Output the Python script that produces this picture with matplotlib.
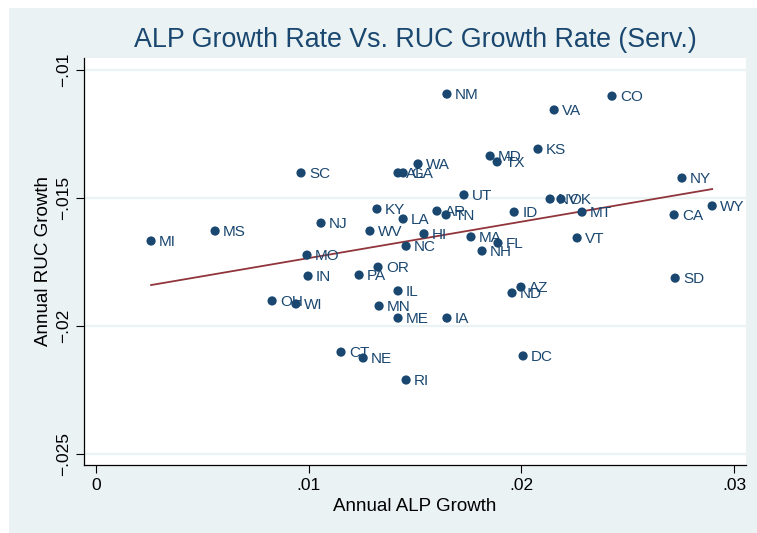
import numpy as np
import matplotlib
matplotlib.use('Agg')
import matplotlib.pyplot as plt
from matplotlib.patches import Rectangle

plt.rcParams['font.family'] = ['Liberation Sans', 'DejaVu Sans']

# Dados (crescimento anual)
states = ['MI', 'MS', 'SC', 'NJ', 'MO', 'IN', 'OH', 'WI', 'KY', 'LA',
          'WV', 'HI', 'NC', 'AR', 'TN', 'UT', 'ID', 'MA', 'FL', 'NH',
          'NM', 'WA', 'AL', 'GA', 'MD', 'TX', 'KS', 'VA', 'CO', 'NY',
          'WY', 'CA', 'MT', 'VT', 'NV', 'OK', 'SD', 'AZ', 'ND', 'OR',
          'PA', 'IL', 'MN', 'ME', 'IA', 'CT', 'NE', 'RI', 'DC']
alp_growth = [0.00259, 0.00560, 0.00964, 0.01058, 0.00992, 0.00997, 0.00828, 0.00940, 0.01321, 0.01444,
              0.01288, 0.01542, 0.01458, 0.01603, 0.01646, 0.01730, 0.01966, 0.01763, 0.01890, 0.01815,
              0.01650, 0.01514, 0.01420, 0.01444, 0.01853, 0.01886, 0.02078, 0.02154, 0.02426, 0.02755,
              0.02897, 0.02718, 0.02285, 0.02262, 0.02135, 0.02186, 0.02723, 0.01998, 0.01956, 0.01326,
              0.01237, 0.01420, 0.01331, 0.01420, 0.01650, 0.01152, 0.01256, 0.01458, 0.02008]
ruc_growth = [-0.01668, -0.01629, -0.01402, -0.01598, -0.01723, -0.01805, -0.01902, -0.01914, -0.01543, -0.01582,
              -0.01629, -0.01640, -0.01688, -0.01551, -0.01566, -0.01488, -0.01555, -0.01652, -0.01676, -0.01707,
              -0.01094, -0.01367, -0.01402, -0.01402, -0.01336, -0.01359, -0.01309, -0.01156, -0.01102, -0.01422,
              -0.01531, -0.01566, -0.01555, -0.01656, -0.01504, -0.01504, -0.01813, -0.01848, -0.01871, -0.01770,
              -0.01801, -0.01863, -0.01922, -0.01969, -0.01969, -0.02102, -0.02125, -0.02211, -0.02117]

fit_x = [0.00259, 0.02897]
fit_y = [-0.01840, -0.01465]

xticks = [0, 0.01, 0.02, 0.03]
xtick_labels = ['0', '.01', '.02', '.03']
yticks = [-0.01, -0.015, -0.02, -0.025]
ytick_labels = ['\u2212.01', '\u2212.015', '\u2212.02', '\u2212.025']

NAVY = '#1a476f'
MAROON = '#90353b'
PANEL = '#eaf2f3'

fig = plt.figure(figsize=(7.57, 5.33), dpi=100, facecolor='white')
fig.patches.append(Rectangle((9 / 757, 0), 1, 1 - 8 / 533, transform=fig.transFigure,
                             facecolor=PANEL, edgecolor='none', zorder=0))

ax = fig.add_axes([84 / 757, 68 / 533, 662 / 757, 407 / 533])
ax.set_zorder(2)
ax.set_facecolor('white')

ax.plot(fit_x, fit_y, color=MAROON, lw=1.3, zorder=2)
ax.scatter(alp_growth, ruc_growth, s=44, color=NAVY, edgecolors='none', zorder=3)
for st, x, y in zip(states, alp_growth, ruc_growth):
    ax.annotate(st, (x, y), xytext=(5.8, -0.5), textcoords='offset points',
                va='center', ha='left', fontsize=11, color=NAVY, zorder=4)

ax.set_xlim(-0.000564, 0.03056)
ax.set_ylim(-0.02543, -0.00953)

ax.set_xticks(xticks)
ax.set_xticklabels(xtick_labels)
ax.set_yticks(yticks)
ax.set_yticklabels(ytick_labels, rotation=90, va='center')
ax.tick_params(axis='both', direction='out', length=6, width=0.8, labelsize=12.5, pad=3)

ax.grid(axis='y', color=PANEL, lw=1.6, zorder=0)
ax.set_axisbelow(True)
for side in ['top', 'right']:
    ax.spines[side].set_visible(False)
ax.spines['left'].set_linewidth(0.9)
ax.spines['bottom'].set_linewidth(0.9)

ax.set_xlabel('Annual ALP Growth', fontsize=13.5, labelpad=4)
ax.set_ylabel('Annual RUC Growth', fontsize=13.5, labelpad=3)
fig.text(415 / 757, 1 - 40 / 533, 'ALP Growth Rate Vs. RUC Growth Rate (Serv.)',
         ha='center', va='center', fontsize=19.3, color=NAVY)

plt.savefig('out.png', dpi=100, facecolor=fig.get_facecolor())
